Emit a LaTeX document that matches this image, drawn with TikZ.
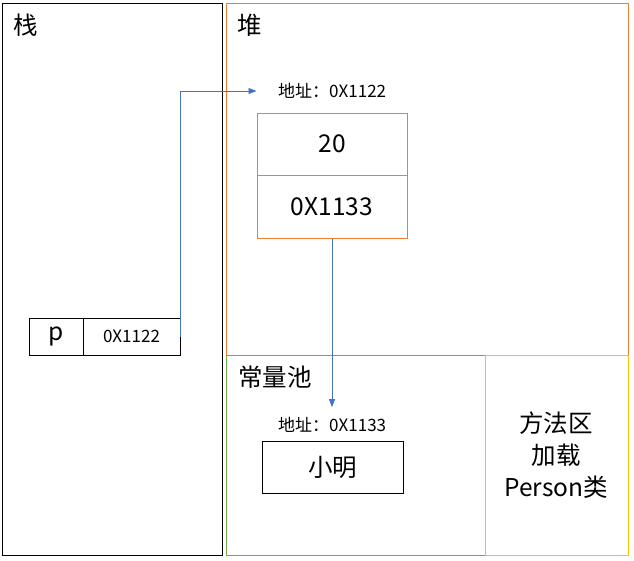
\documentclass[tikz,border=0pt]{standalone}
\usepackage{fontspec}
\setmainfont{Noto Sans CJK SC}
\usetikzlibrary{arrows.meta}
\definecolor{heapc}{HTML}{ED7D31}
\definecolor{poolc}{HTML}{70AD47}
\definecolor{methc}{HTML}{FFC000}
\definecolor{refc}{HTML}{4472C4}

\begin{document}
\begin{tikzpicture}[x=1pt, y=-1pt,
		big/.style = {font=\fontsize{24.5}{32}\selectfont},
		small/.style = {font=\fontsize{17}{20}\selectfont},
		cell/.style = {draw=#1, line width=1pt, inner sep=0pt},
		cell/.default = black,
		ref/.style = {draw=refc, line width=0.9pt, -{Triangle[length=8pt, width=6pt]}}]
		\useasboundingbox (0,0) rectangle (634,560);
		\draw[line width=1pt] (2,3) rectangle (222,555);
		\draw[heapc, line width=0.9pt] (226,3) rectangle (628,355);
		\draw[poolc, line width=0.9pt] (226,355) rectangle (485,555);
		\draw[methc, line width=0.9pt] (485,355) rectangle (628,555);
		\node[big, anchor=west, inner sep=0pt] (stack) at (13,25) {栈};
		\node[big, anchor=west, inner sep=0pt] (heap) at (237,25) {堆};
		\node[big, anchor=west, inner sep=0pt] (pool) at (238,377) {常量池};
		\node[big, align=center] (method) at (556,455) {方法区\\加载\\Person类};
		\node[cell, big, minimum width=54pt, minimum height=37pt] (pname) at (56,336.5) {p};
		\node[cell, small, minimum width=97pt, minimum height=37pt] (pval) at (131.5,336.5) {0X1122};
		\node[small, anchor=west, inner sep=0pt] (addr1) at (278,91) {地址：0X1122};
		\node[cell=heapc, big, minimum width=150pt, minimum height=62pt] (age) at (332,144) {20};
		\node[cell=heapc, big, minimum width=150pt, minimum height=63pt] (name) at (332,206.5) {0X1133};
		\node[small, anchor=west, inner xsep=0pt, inner ysep=10pt] (addr2) at (278,425) {地址：0X1133};
		\node[cell, big, minimum width=141pt, minimum height=52pt] (xm) at (332.5,467) {小明};
		\draw[ref] (pval.east) |- (age.north west |- addr1.west);
		\draw[ref] (name.south) -- (name.south |- addr2.north);
	\end{tikzpicture}
\end{document}
